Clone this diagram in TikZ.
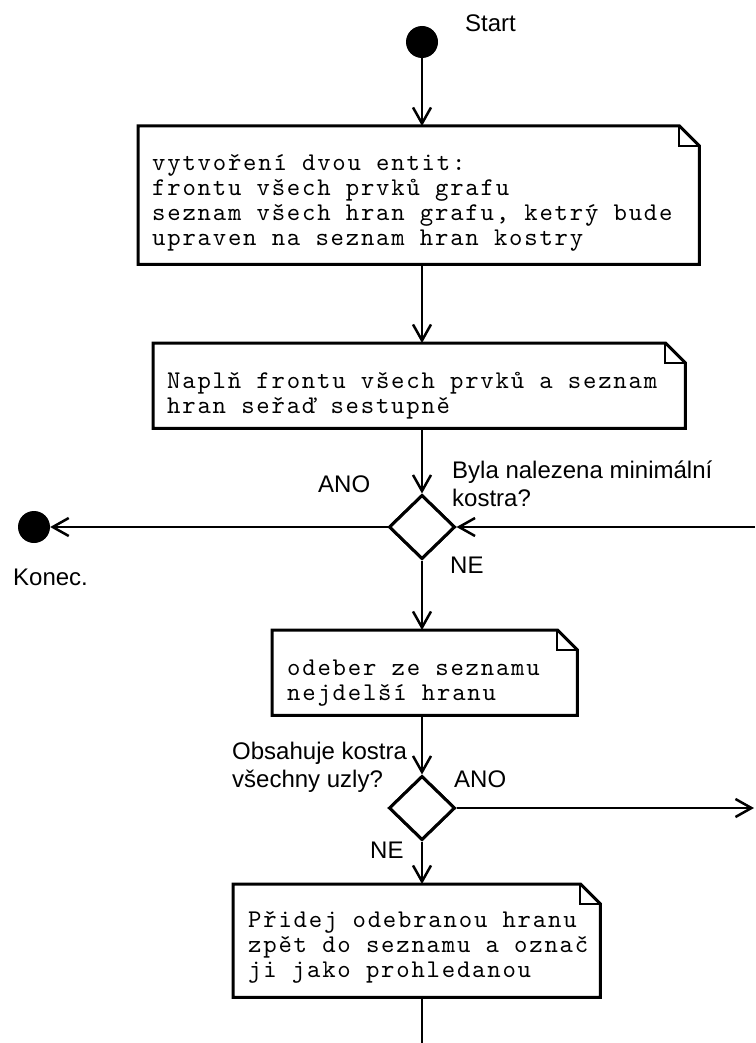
\documentclass[tikz,border=0pt]{standalone}
\usepackage{fontspec}
\usetikzlibrary{arrows.meta,shapes.geometric,calc}
\newfontfamily\sansf{Liberation Sans}
\newfontfamily\monof{lmmono10-regular.otf}[LetterSpace=7]
\newcommand\drawnote[1]{%
  \draw[outline,fill=white] (#1.north west) -- ([xshift=-20pt]#1.north east) -- ([yshift=-20pt]#1.north east) -- (#1.south east) -- (#1.south west) -- cycle;
  \draw[outline,line width=2pt] ([xshift=-20pt]#1.north east) -- ([xshift=-20pt,yshift=-20pt]#1.north east) -- ([yshift=-20pt]#1.north east);
}
\begin{document}
\begin{tikzpicture}[x=1pt,y=-1pt,
  lbl/.style={font=\sansf\fontsize{24}{28}\selectfont, inner sep=0, text=black, align=left},
  mono/.style={font=\monof\fontsize{25.5}{25}\selectfont, inner sep=0, align=left, anchor=west},
  notebox/.style={rectangle, draw=none, inner sep=0, anchor=north west},
  dec/.style={diamond, draw, line width=3pt, minimum width=66pt, minimum height=64pt, inner sep=0, fill=white},
  dot/.style={circle, fill=black, minimum size=32pt, inner sep=0},
  conn/.style={line width=2.5pt, -{Straight Barb[length=16pt,width=18pt]}},
  plain/.style={line width=2.5pt},
  outline/.style={line width=3pt, line join=miter}
]
\useasboundingbox (0,0) rectangle (755,1043);
\fill[white] (0,0) rectangle (755,1043);

% nodes
\node[dot] (s) at (422,42) {};
\node[dot] (e) at (34,527) {};
\node[notebox, minimum width=561pt, minimum height=138pt] (b1) at (138,126) {};
\node[notebox, minimum width=532pt, minimum height=85pt] (b2) at (153,343) {};
\node[notebox, minimum width=305pt, minimum height=85pt] (b3) at (272,630) {};
\node[notebox, minimum width=367pt, minimum height=113pt] (b4) at (233,884) {};
\node[dec] (d1) at (422,527) {};
\node[dec] (d2) at (422,808) {};
\coordinate (rin) at (755,527);
\coordinate (rout) at (754,808);
\coordinate (bot) at (422,1043);

% connectors
\draw[conn] (s.south) -- (s.south |- b1.north);
\draw[conn] (s.south |- b1.south) -- (s.south |- b2.north);
\draw[conn] (s.south |- b2.south) -- (d1.north);
\draw[conn] (d1.west) -- (e.east);
\draw[conn] (rin) -- (d1.east);
\draw[conn] (d1.south) -- (d1.south |- b3.north);
\draw[conn] (d1.south |- b3.south) -- (d2.north);
\draw[conn] (d2.east) -- (rout);
\draw[conn] (d2.south) -- (d2.south |- b4.north);
\draw[plain] (d2.south |- b4.south) -- (bot);

% notes
\drawnote{b1}
\drawnote{b2}
\drawnote{b3}
\drawnote{b4}
\node[dec] at (d1) {};
\node[dec] at (d2) {};

\node[mono] (t1) at ([xshift=14pt,yshift=-8pt]b1.west) {vytvoření dvou entit:\\frontu všech prvků grafu\\seznam všech hran grafu, ketrý bude\\upraven na seznam hran kostry};
\node[mono] (t2) at ([xshift=14pt,yshift=-10pt]b2.west) {Naplň frontu všech prvků a seznam\\hran seřaď sestupně};
\node[mono] (t3) at ([xshift=15pt,yshift=-10pt]b3.west) {odeber ze seznamu\\nejdelší hranu};
\node[mono] (t4) at ([xshift=15pt,yshift=-7pt]b4.west) {Přidej odebranou hranu\\zpět do seznamu a označ\\ji jako prohledanou};

% labels
\node[lbl, anchor=base west] (lstart) at (465,32) {Start};
\node[lbl, anchor=base west] (lano1) at (318,492) {ANO};
\node[lbl, anchor=north west] (lq1) at (452,461) {Byla nalezena minimální\\kostra?};
\node[lbl, anchor=base west] (lne1) at (450,573) {NE};
\node[lbl, anchor=base west] (lend) at (13,585) {Konec.};
\node[lbl, anchor=north west] (lq2) at (232,742) {Obsahuje kostra\\všechny uzly?};
\node[lbl, anchor=base west] (lano2) at (454,787) {ANO};
\node[lbl, anchor=base west] (lne2) at (370,858) {NE};
\end{tikzpicture}
\end{document}
